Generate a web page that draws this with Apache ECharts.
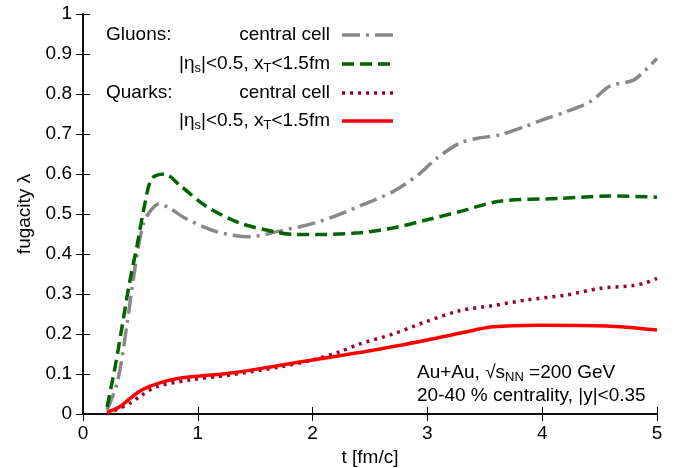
<!DOCTYPE html>
<html><head><meta charset="utf-8">
<script src="https://cdn.jsdelivr.net/npm/echarts@6/dist/echarts.min.js"></script>
<style>html,body{margin:0;padding:0;background:#fff}#c{width:689px;height:468px}</style>
</head><body><div id="c"></div>
<script>
// Gluons, central cell
const gluonCentralT = [0.21,0.3,0.38,0.45,0.52,0.58,0.66,0.75,0.9,1.16,1.45,1.69,2.06,2.41,2.7,2.92,3.08,3.28,3.45,3.63,3.86,4.04,4.21,4.42,4.59,4.79,4.9,5.0];
const gluonCentralL = [0.01,0.08,0.218,0.36,0.47,0.505,0.525,0.515,0.488,0.456,0.443,0.456,0.481,0.52,0.556,0.598,0.639,0.677,0.69,0.698,0.72,0.739,0.756,0.781,0.82,0.834,0.86,0.889];
// Gluons, |eta_s|<0.5, x_T<1.5fm
const gluonEtaT = [0.21,0.28,0.34,0.4,0.47,0.54,0.6,0.71,0.85,1.08,1.37,1.66,1.83,2.1,2.41,2.7,2.99,3.28,3.63,4.16,4.59,5.0];
const gluonEtaL = [0.018,0.118,0.218,0.32,0.42,0.527,0.589,0.60,0.57,0.518,0.477,0.456,0.449,0.449,0.453,0.465,0.485,0.506,0.532,0.539,0.545,0.542];
// Quarks, central cell
const quarkCentralT = [0.21,0.41,0.5,0.64,0.93,1.28,1.72,2.0,2.24,2.41,2.7,2.99,3.28,3.57,3.86,4.21,4.5,4.79,4.9,5.0];
const quarkCentralL = [0.0,0.027,0.045,0.068,0.085,0.0975,0.118,0.135,0.156,0.175,0.2,0.231,0.258,0.271,0.285,0.2975,0.314,0.321,0.328,0.339];
// Quarks, |eta_s|<0.5, x_T<1.5fm
const quarkEtaT = [0.21,0.32,0.41,0.5,0.58,0.67,0.76,0.9,1.14,1.31,1.72,2.0,2.5,3.0,3.3,3.57,3.98,4.56,5.0];
const quarkEtaL = [0.004,0.018,0.039,0.058,0.069,0.078,0.085,0.092,0.098,0.103,0.122,0.135,0.158,0.185,0.203,0.218,0.222,0.22,0.21];

const xTicks = {min:0, max:5, interval:1};
const yTicks = {min:0, max:1, interval:0.1};

const zip = (t, l) => t.map((v, i) => [v, l[i]]);
const FONT = 'Liberation Sans, Arial, sans-serif';
const FS = 19;

const chart = echarts.init(document.getElementById('c'), null, {renderer:'canvas'});
const axisCommon = {
  axisLine:{show:true, lineStyle:{color:'#000', width:1.5}},
  axisTick:{show:true, inside:true, length:7, lineStyle:{color:'#000', width:1}},
  splitLine:{show:false}
};
const rich = {
  n:{fontSize:FS, fontFamily:FONT, color:'#000', lineHeight:22, verticalAlign:'middle'},
  s:{fontSize:13, fontFamily:FONT, color:'#000', lineHeight:13, verticalAlign:'bottom'}
};
function label(x, y, text, align) {
  return {type:'text', z:100, style:{x, y, text, align, verticalAlign:'middle', fontSize:FS, fontFamily:FONT, fill:'#000', rich}};
}
function sample(y, color, dash, w) {
  return {type:'line', z:100, shape:{x1:342, y1:y, x2:393, y2:y}, style:{stroke:color, lineWidth:w, lineDash:dash}};
}
const lineBase = {type:'line', showSymbol:false, smooth:0.3};

chart.setOption({
  animation:false,
  backgroundColor:'#fff',
  grid:{left:83, right:32, top:14, bottom:54, containLabel:false, outerBoundsMode:'none'},
  xAxis:[
    Object.assign({type:'value', position:'bottom', min:xTicks.min, max:xTicks.max, interval:xTicks.interval,
      name:'t [fm/c]', nameLocation:'middle', nameGap:31,
      nameTextStyle:{fontSize:FS, fontFamily:FONT, color:'#000'},
      axisLabel:{fontSize:FS, fontFamily:FONT, color:'#000', margin:10}}, axisCommon),
    Object.assign({type:'value', position:'top', min:xTicks.min, max:xTicks.max, interval:xTicks.interval,
      axisLabel:{show:false}}, axisCommon)
  ],
  yAxis:[
    Object.assign({type:'value', position:'left', min:yTicks.min, max:yTicks.max, interval:yTicks.interval,
      name:'fugacity λ', nameLocation:'middle', nameGap:40, nameRotate:90,
      nameTextStyle:{fontSize:FS, fontFamily:FONT, color:'#000'},
      axisLabel:{fontSize:FS, fontFamily:FONT, color:'#000', margin:11}}, axisCommon),
    Object.assign({type:'value', position:'right', min:yTicks.min, max:yTicks.max, interval:yTicks.interval,
      axisLabel:{show:false}}, axisCommon)
  ],
  series:[
    Object.assign({name:'g central', data:zip(gluonCentralT, gluonCentralL),
      lineStyle:{color:'#888888', width:3.5, type:[18,6,3,6]}}, lineBase),
    Object.assign({name:'g eta', data:zip(gluonEtaT, gluonEtaL),
      lineStyle:{color:'#006400', width:3.5, type:[12,6]}}, lineBase),
    Object.assign({name:'q central', data:zip(quarkCentralT, quarkCentralL),
      lineStyle:{color:'#990033', width:3.5, type:[3,5]}}, lineBase),
    Object.assign({name:'q eta', data:zip(quarkEtaT, quarkEtaL),
      lineStyle:{color:'#ff0000', width:3.5, type:'solid'}}, lineBase)
  ],
  graphic:[
    label(106, 35, 'Gluons:', 'left'),
    label(330, 35, 'central cell', 'right'),
    sample(35, '#888888', [18,6,3,6], 3.5),
    label(330, 64, '{n||η}{s|s}{n||<0.5, x}{s|T}{n|<1.5fm}', 'right'),
    sample(64, '#006400', [12,6], 3.5),
    label(106, 93, 'Quarks:', 'left'),
    label(330, 93, 'central cell', 'right'),
    sample(93, '#990033', [3,5], 3.5),
    label(330, 121, '{n||η}{s|s}{n||<0.5, x}{s|T}{n|<1.5fm}', 'right'),
    sample(121, '#ff0000', null, 3.5),
    label(417, 373, '{n|Au+Au, √s}{s|NN}{n| =200 GeV}', 'left'),
    label(417, 396, '20-40 % centrality, |y|<0.35', 'left')
  ]
});
</script></body></html>
